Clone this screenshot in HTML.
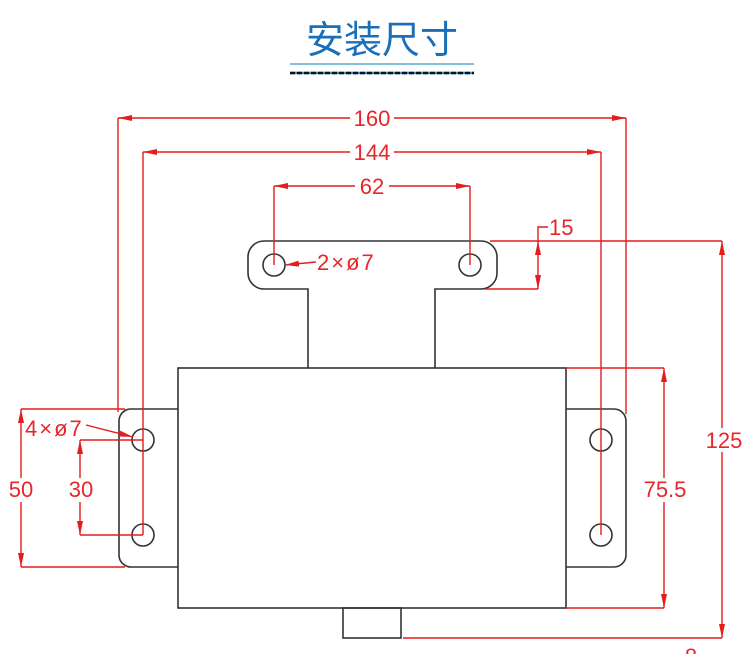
<!DOCTYPE html>
<html><head><meta charset="utf-8"><style>
html,body{margin:0;padding:0;background:#fff;width:750px;height:654px;overflow:hidden}
svg{display:block}
.t{font-family:"Liberation Sans",sans-serif;font-size:22px;fill:#e8262a}
</style></head><body>
<svg width="750" height="654" viewBox="0 0 750 654" xmlns="http://www.w3.org/2000/svg">
<defs>
<marker id="a" viewBox="0 0 14 6" refX="14" refY="3" markerWidth="14" markerHeight="6" markerUnits="userSpaceOnUse" orient="auto-start-reverse"><path d="M0,0L14,3L0,6z" fill="#e41c1c"/></marker>
</defs>
<text x="382" y="53" text-anchor="middle" style="font-family:'Liberation Sans','Noto Sans CJK SC',sans-serif;font-size:38px;fill:#1a6fb8">安装尺寸</text>
<line x1="290" y1="64" x2="474" y2="64" stroke="#5aa8d8" stroke-width="1.5"/>
<line x1="290" y1="73" x2="474" y2="73" stroke="#3a8ed0" stroke-width="2.5"/>
<line x1="290" y1="73" x2="474" y2="73" stroke="#111" stroke-width="2.5" stroke-dasharray="5,2"/>

<g fill="none" stroke="#333" stroke-width="1.6">
<rect x="178" y="368" width="388" height="240"/>
<rect x="343" y="608" width="58" height="30"/>
<path d="M308,368V289H264A16,16 0 0 1 248,273V257A16,16 0 0 1 264,241H481A16,16 0 0 1 497,257V273A16,16 0 0 1 481,289H435V368"/>
<path d="M178,409H131A12,12 0 0 0 119,421V555A12,12 0 0 0 131,567H178"/>
<path d="M566,409H614A12,12 0 0 1 626,421V555A12,12 0 0 1 614,567H566"/>
<circle cx="274" cy="265" r="11"/><circle cx="470" cy="265" r="11"/>
<circle cx="143" cy="440" r="11"/><circle cx="143" cy="535" r="11"/>
<circle cx="601" cy="440" r="11"/><circle cx="601" cy="535" r="11"/>
</g>

<g stroke="#e41c1c" stroke-width="1.4" fill="none">
<line x1="118" y1="118" x2="118" y2="412"/><line x1="626" y1="118" x2="626" y2="414"/>
<line x1="118" y1="118" x2="626" y2="118" marker-start="url(#a)" marker-end="url(#a)"/>
<line x1="143" y1="152" x2="143" y2="535"/><line x1="601" y1="152" x2="601" y2="535"/>
<line x1="143" y1="152" x2="601" y2="152" marker-start="url(#a)" marker-end="url(#a)"/>
<line x1="274" y1="186" x2="274" y2="265"/><line x1="470" y1="186" x2="470" y2="265"/>
<line x1="274" y1="186" x2="470" y2="186" marker-start="url(#a)" marker-end="url(#a)"/>
<line x1="490" y1="241" x2="722" y2="241"/><line x1="485" y1="289" x2="538" y2="289"/>
<line x1="538" y1="241" x2="538" y2="289" marker-start="url(#a)" marker-end="url(#a)"/>
<polyline points="538,241 538,227 548,227"/>
<line x1="722" y1="241" x2="722" y2="638" marker-start="url(#a)" marker-end="url(#a)"/>
<line x1="403" y1="638" x2="722" y2="638"/>
<line x1="566" y1="368" x2="664" y2="368"/><line x1="566" y1="608" x2="664" y2="608"/>
<line x1="664" y1="368" x2="664" y2="608" marker-start="url(#a)" marker-end="url(#a)"/>
<line x1="21" y1="409" x2="125" y2="409"/><line x1="21" y1="567" x2="125" y2="567"/>
<line x1="21" y1="409" x2="21" y2="567" marker-start="url(#a)" marker-end="url(#a)"/>
<line x1="80" y1="440" x2="143" y2="440"/><line x1="80" y1="535" x2="143" y2="535"/>
<line x1="80" y1="440" x2="80" y2="535" marker-start="url(#a)" marker-end="url(#a)"/>
<line x1="86" y1="425" x2="133" y2="437" marker-end="url(#a)"/>
<line x1="316" y1="262" x2="285" y2="265" marker-end="url(#a)"/>
</g>

<g class="t">
<rect x="350" y="107" width="44" height="22" fill="#fff"/><text x="372" y="126" text-anchor="middle">160</text>
<rect x="350" y="141" width="44" height="22" fill="#fff"/><text x="372" y="160" text-anchor="middle">144</text>
<rect x="355" y="175" width="34" height="22" fill="#fff"/><text x="372" y="194" text-anchor="middle">62</text>
<text x="549" y="235">15</text>
<text x="317" y="270" letter-spacing="2">2×ø7</text>
<text x="25" y="436" letter-spacing="2">4×ø7</text>
<rect x="704" y="428" width="42" height="24" fill="#fff"/><text x="724" y="448" text-anchor="middle">125</text>
<rect x="640" y="478" width="50" height="24" fill="#fff"/><text x="665" y="497" text-anchor="middle">75.5</text>
<rect x="6" y="478" width="30" height="24" fill="#fff"/><text x="21" y="497" text-anchor="middle">50</text>
<rect x="66" y="478" width="30" height="24" fill="#fff"/><text x="81" y="497" text-anchor="middle">30</text>
<text x="691" y="664" text-anchor="middle">8</text>
</g>
</svg>
</body></html>
